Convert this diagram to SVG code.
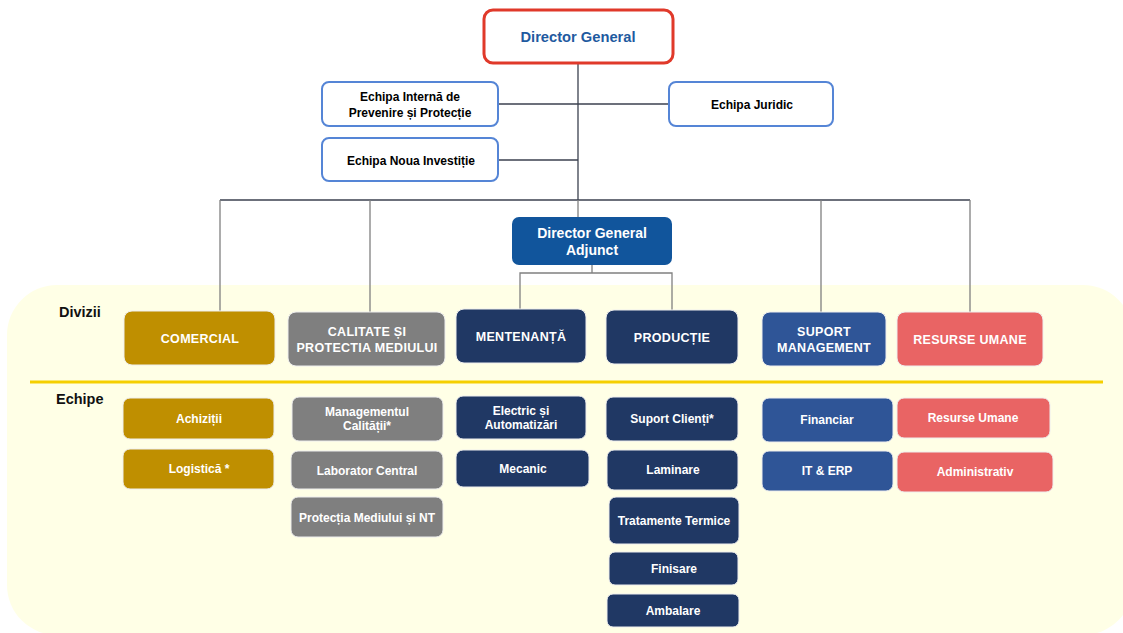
<svg xmlns="http://www.w3.org/2000/svg" width="1123" height="633" viewBox="0 0 1123 633">
<style>
text{font-family:"Liberation Sans",Arial,sans-serif;font-weight:bold;text-anchor:middle;}
.top{fill:#fff;stroke:#5585d6;stroke-width:2;}
.tt{font-size:12px;fill:#000;}
.div{font-size:12.5px;fill:#fff;letter-spacing:0.3px;}
.team{font-size:12px;fill:#fff;}
.gold{fill:#bf8f00;}
.gray{fill:#7f7f7f;}
.navy{fill:#203864;}
.blue{fill:#2f5597;}
.red{fill:#e96464;}
.bx{stroke:#eeeeee;stroke-width:1;}
.lbl{font-size:14.5px;fill:#111;text-anchor:start;}
.c1{stroke:#3c4250;stroke-width:1.3;fill:none;}
.c2{stroke:#808080;stroke-width:1.3;fill:none;}
</style>
<rect x="7" y="285" width="1126" height="350" rx="50" fill="#ffffe6"/>
<line x1="30" y1="382" x2="1103" y2="382" stroke="#f5cf00" stroke-width="3"/>
<text class="lbl" x="59" y="317">Divizii</text>
<text class="lbl" x="56" y="404">Echipe</text>
<g id="connectors">
<path class="c1" d="M578 63 V200 M498 104 H669 M498 160 H578 M220 200 H970"/>
<path class="c2" d="M220 200 V311 M370 200 V312 M821 200 V312 M970 200 V312 M578 200 V217"/>
<path class="c2" d="M592 265 V273 M520 309 V273 H672 V310"/>
</g>
<g id="director-general">
<rect x="484" y="10" width="189" height="53" rx="9" fill="#fff" stroke="#e0392a" stroke-width="3"/>
<text x="578" y="42" font-size="14.7" fill="#1f5aa0">Director General</text>
</g>
<g id="echipa-interna">
<rect class="top" x="322" y="82" width="176" height="44" rx="7"/>
<text class="tt" x="410" y="101">Echipa Internă de</text>
<text class="tt" x="410" y="117">Prevenire și Protecție</text>
</g>
<g id="echipa-juridic">
<rect class="top" x="669" y="82" width="164" height="44" rx="7"/>
<text class="tt" x="752" y="109">Echipa Juridic</text>
</g>
<g id="echipa-noua">
<rect class="top" x="322" y="138" width="176" height="43" rx="7"/>
<text class="tt" x="411" y="165">Echipa Noua Investiție</text>
</g>
<g id="dga">
<rect x="512" y="217" width="160" height="48" rx="7" fill="#11559c"/>
<text x="592" y="238" font-size="14" fill="#fff">Director General</text>
<text x="592" y="255" font-size="14" fill="#fff">Adjunct</text>
</g>
<g id="comercial"><rect class="gold bx" x="124" y="311" width="151" height="54" rx="8"/><text class="div" x="200" y="343">COMERCIAL</text></g>
<g id="calitate"><rect class="gray bx" x="288" y="312" width="157" height="54" rx="8"/><text class="div" x="367" y="336">CALITATE ȘI</text><text class="div" x="367" y="352">PROTECTIA MEDIULUI</text></g>
<g id="mentenanta"><rect class="navy bx" x="456" y="309" width="130" height="54" rx="8"/><text class="div" x="521" y="341">MENTENANȚĂ</text></g>
<g id="productie"><rect class="navy bx" x="606" y="310" width="132" height="54" rx="8"/><text class="div" x="672" y="342">PRODUCȚIE</text></g>
<g id="suport-management"><rect class="blue bx" x="762" y="312" width="124" height="54" rx="8"/><text class="div" x="824" y="336">SUPORT</text><text class="div" x="824" y="352">MANAGEMENT</text></g>
<g id="resurse-umane-div"><rect class="red bx" x="897" y="312" width="146" height="54" rx="8"/><text class="div" x="970" y="344">RESURSE UMANE</text></g>
<g id="achizitii"><rect class="gold bx" x="123" y="398" width="151" height="41" rx="7"/><text class="team" x="199" y="423">Achiziții</text></g>
<g id="logistica"><rect class="gold bx" x="123" y="449" width="151" height="40" rx="7"/><text class="team" x="199" y="473">Logistică *</text></g>
<g id="managementul-calitatii"><rect class="gray bx" x="292" y="397" width="151" height="44" rx="7"/><text class="team" x="367" y="416">Managementul</text><text class="team" x="367" y="430">Calității*</text></g>
<g id="laborator"><rect class="gray bx" x="291" y="451" width="152" height="38" rx="7"/><text class="team" x="367" y="475">Laborator Central</text></g>
<g id="protectia"><rect class="gray bx" x="291" y="497" width="152" height="40" rx="7"/><text class="team" x="367" y="522">Protecția Mediului și NT</text></g>
<g id="electric"><rect class="navy bx" x="456" y="396" width="130" height="43" rx="7"/><text class="team" x="521" y="415">Electric și</text><text class="team" x="521" y="429">Automatizări</text></g>
<g id="mecanic"><rect class="navy bx" x="456" y="450" width="133" height="37" rx="7"/><text class="team" x="523" y="473">Mecanic</text></g>
<g id="suport-clienti"><rect class="navy bx" x="606" y="397" width="132" height="44" rx="7"/><text class="team" x="672" y="423">Suport Clienți*</text></g>
<g id="laminare"><rect class="navy bx" x="607" y="450" width="131" height="40" rx="7"/><text class="team" x="673" y="474">Laminare</text></g>
<g id="tratamente"><rect class="navy bx" x="609" y="497" width="130" height="47" rx="7"/><text class="team" x="674" y="525">Tratamente Termice</text></g>
<g id="finisare"><rect class="navy bx" x="609" y="552" width="129" height="33" rx="6"/><text class="team" x="674" y="573">Finisare</text></g>
<g id="ambalare"><rect class="navy bx" x="607" y="594" width="132" height="33" rx="6"/><text class="team" x="673" y="615">Ambalare</text></g>
<g id="financiar"><rect class="blue bx" x="762" y="398" width="131" height="44" rx="7"/><text class="team" x="827" y="424">Financiar</text></g>
<g id="it-erp"><rect class="blue bx" x="762" y="451" width="131" height="40" rx="7"/><text class="team" x="827" y="475">IT &amp; ERP</text></g>
<g id="resurse-umane"><rect class="red bx" x="897" y="398" width="153" height="40" rx="7"/><text class="team" x="973" y="422">Resurse Umane</text></g>
<g id="administrativ"><rect class="red bx" x="897" y="452" width="156" height="40" rx="7"/><text class="team" x="975" y="476">Administrativ</text></g>
</svg>
